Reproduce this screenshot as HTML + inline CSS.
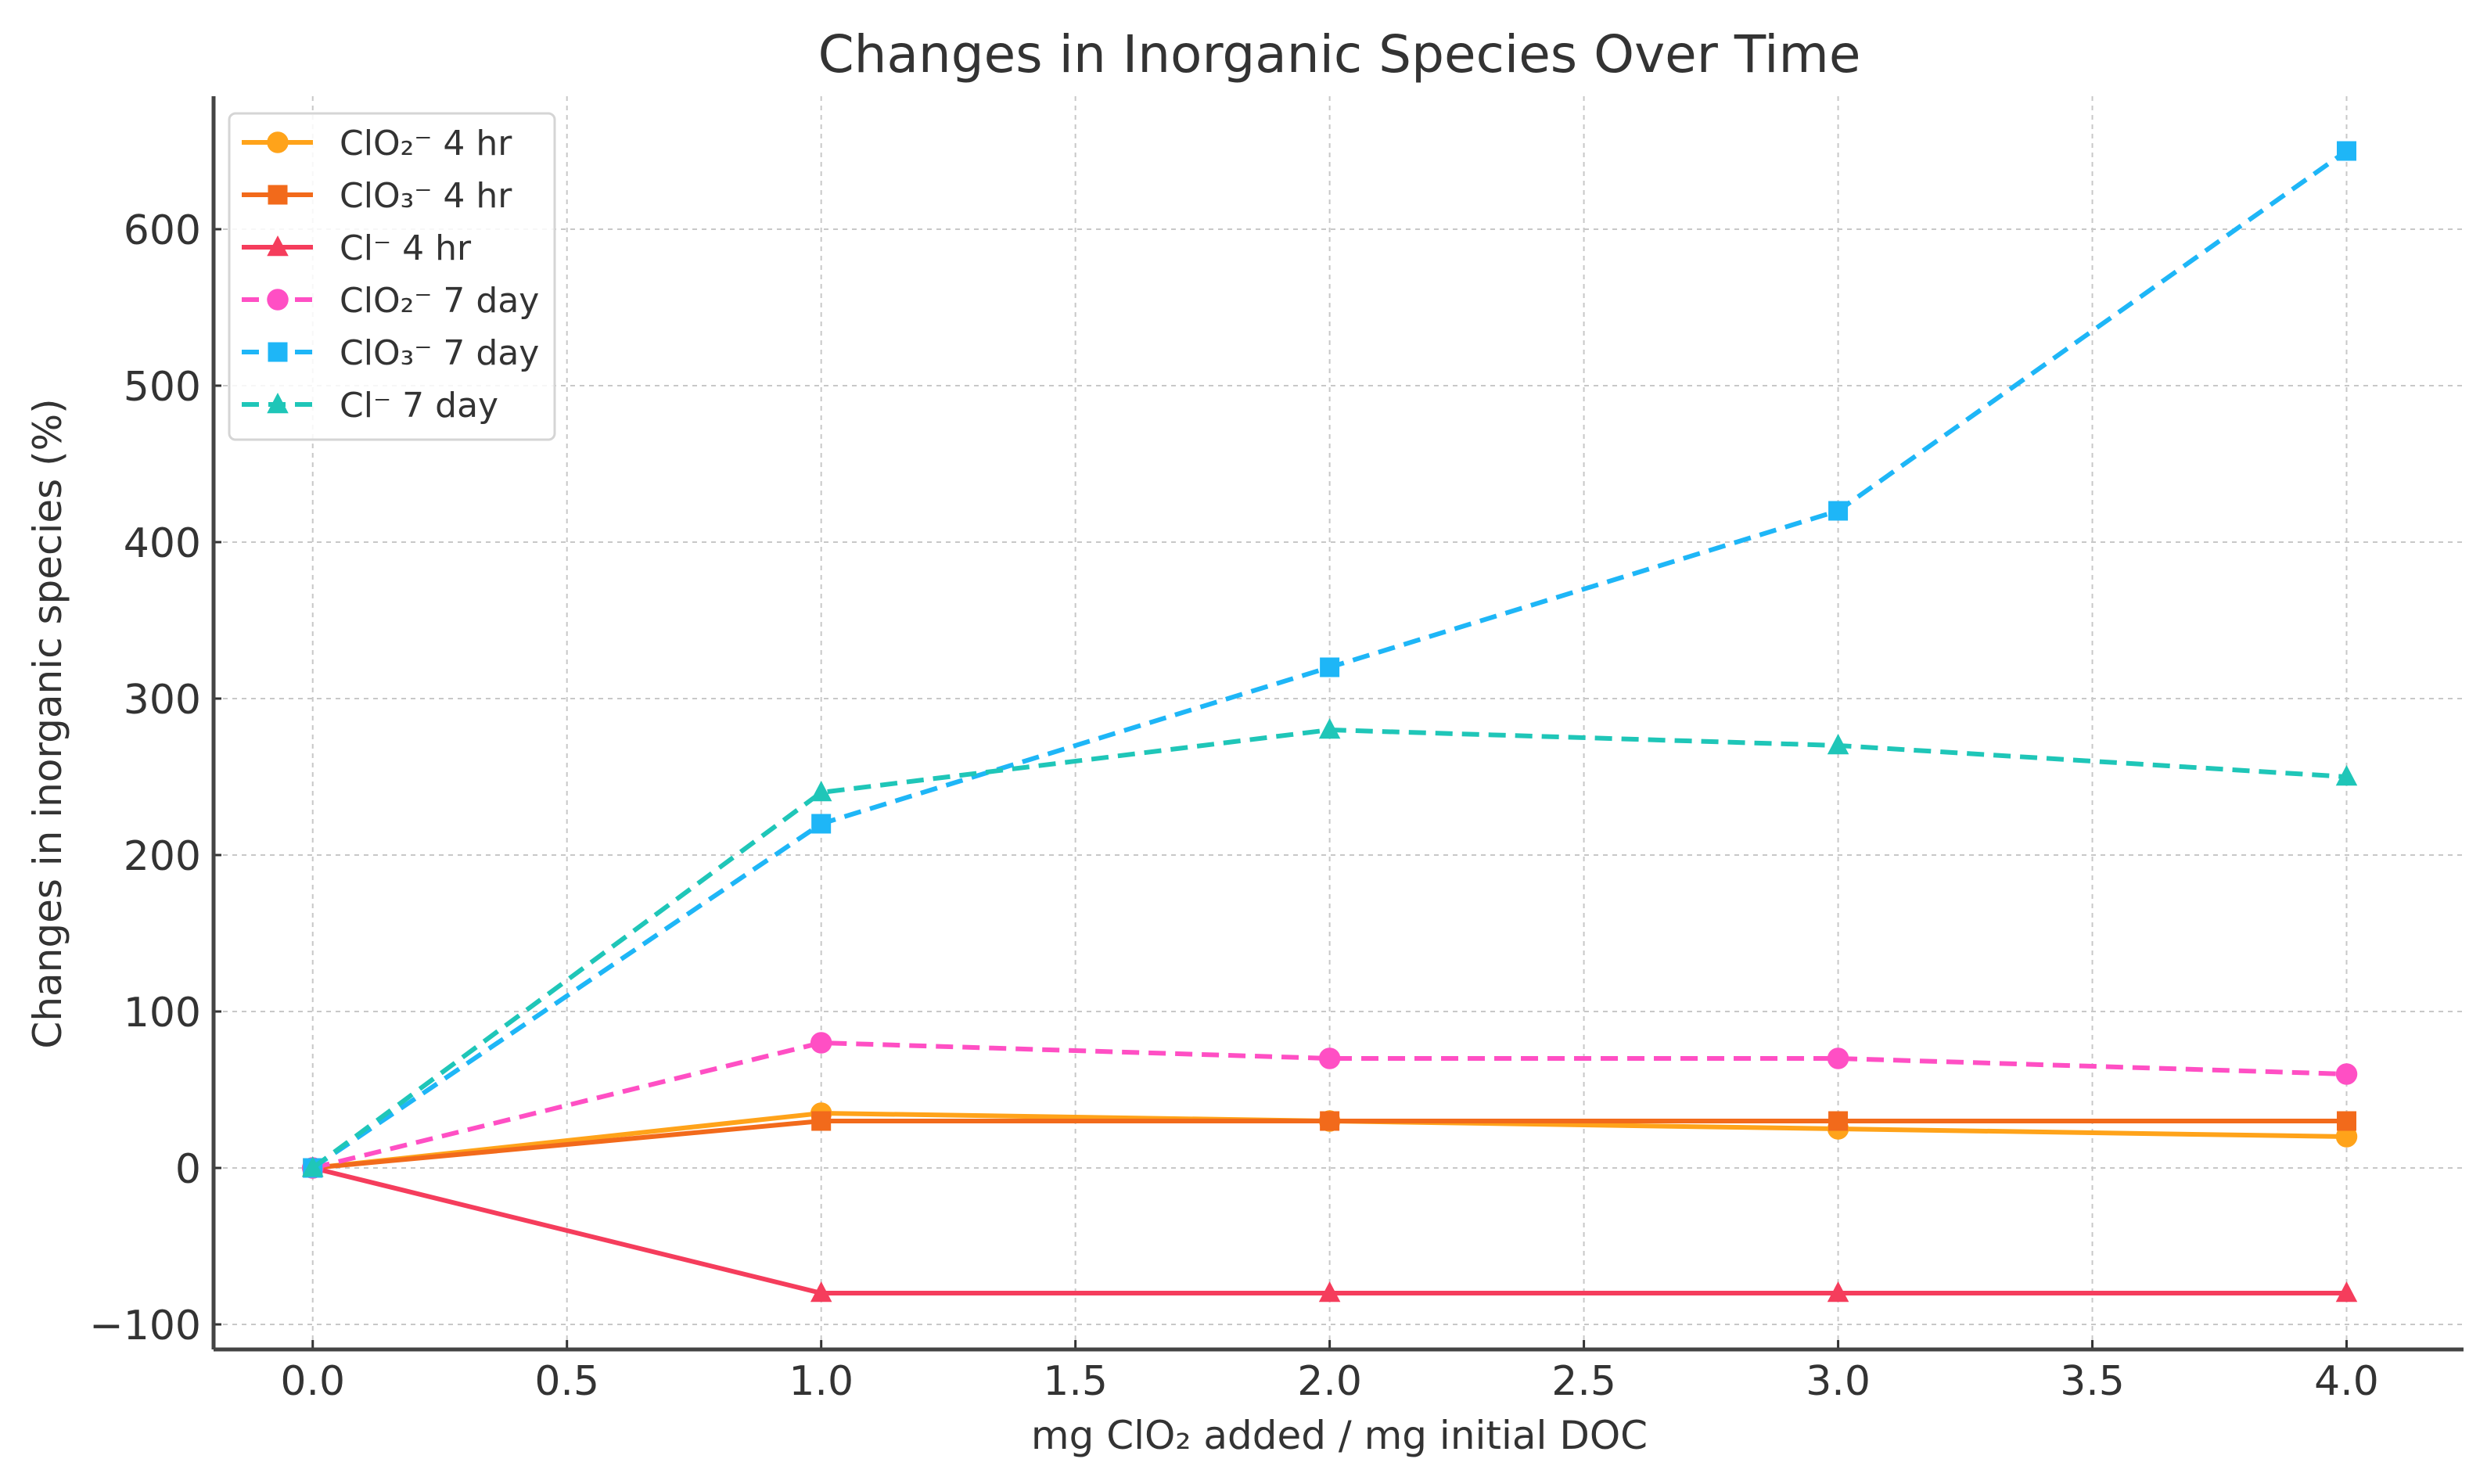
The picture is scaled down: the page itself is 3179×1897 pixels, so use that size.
<!DOCTYPE html>
<html><head><meta charset="utf-8"><style>
html,body{margin:0;padding:0;background:#fff;}
svg{display:block;font-family:"DejaVu Sans","Liberation Sans",sans-serif;}
</style></head><body>
<svg id="chart" width="3179" height="1897" viewBox="0 0 3179 1897" xmlns="http://www.w3.org/2000/svg">
<rect width="3179" height="1897" fill="#fff"/>
<text x="1712" y="92" font-size="66" fill="#333" text-anchor="middle">Changes in Inorganic Species Over Time</text>
<g id="grid"></g>
<g id="axes"></g>
<g id="series"></g>
<text x="1712" y="1852" font-size="50" fill="#333" text-anchor="middle">mg ClO₂ added / mg initial DOC</text>
<text transform="translate(78,925) rotate(-90)" font-size="50" fill="#333" text-anchor="middle">Changes in inorganic species (%)</text>
<g id="legend"></g>
</svg>
<script>
const xValues = [0, 1, 2, 3, 4];
const seriesNames = ["ClO₂⁻ 4 hr","ClO₃⁻ 4 hr","Cl⁻ 4 hr","ClO₂⁻ 7 day","ClO₃⁻ 7 day","Cl⁻ 7 day"];
const clo2_4hr = [0, 35, 30, 25, 20];
const clo3_4hr = [0, 30, 30, 30, 30];
const cl_4hr = [0, -80, -80, -80, -80];
const clo2_7day = [0, 80, 70, 70, 60];
const clo3_7day = [0, 220, 320, 420, 650];
const cl_7day = [0, 240, 280, 270, 250];
const xTicks = [0, 0.5, 1, 1.5, 2, 2.5, 3, 3.5, 4];
const xTickLabels = ["0.0","0.5","1.0","1.5","2.0","2.5","3.0","3.5","4.0"];
const yTicks = [-100, 0, 100, 200, 300, 400, 500, 600];
const yTickLabels = ["−100","0","100","200","300","400","500","600"];

const NS="http://www.w3.org/2000/svg";
const L=273,R=3149,T=123,B=1725;
const xMin=-0.195,xMax=4.23,yMin=-116,yMax=685;
function xs(v){return L+(v-xMin)/(xMax-xMin)*(R-L);}
function ys(v){return B-(v-yMin)/(yMax-yMin)*(B-T);}
function mk(tag,attrs,parent){const e=document.createElementNS(NS,tag);for(const k in attrs)e.setAttribute(k,attrs[k]);parent.appendChild(e);return e;}
const grid=document.getElementById('grid'),axes=document.getElementById('axes'),ser=document.getElementById('series'),leg=document.getElementById('legend');

xTicks.forEach((t,i)=>{
  const g=mk('line',{x1:xs(t),x2:xs(t),y1:T,y2:B,stroke:'#c8c8c8','stroke-width':2,'stroke-dasharray':'6 6'},grid);
  
  
  const tk=mk('line',{x1:xs(t),x2:xs(t),y1:B,y2:B-12,stroke:'#333','stroke-width':3},axes);
  
  
  const tx=mk('text',{x:xs(t),y:B+58,'font-size':52,fill:'#333','text-anchor':'middle'},axes);
  tx.textContent=xTickLabels[i];
  
  
});
yTicks.forEach((t,i)=>{
  const g=mk('line',{x1:L,x2:R,y1:ys(t),y2:ys(t),stroke:'#c8c8c8','stroke-width':2,'stroke-dasharray':'6 6'},grid);
  
  
  const tk=mk('line',{x1:L,x2:L+10,y1:ys(t),y2:ys(t),stroke:'#333','stroke-width':3},axes);
  
  
  const tx=mk('text',{x:L-16,y:ys(t)+19,'font-size':52,fill:'#333','text-anchor':'end'},axes);
  tx.textContent=yTickLabels[i];
  
  
});
const ya=mk('line',{x1:L,x2:L,y1:T,y2:B,stroke:'#444','stroke-width':5},axes);


const xa=mk('line',{x1:L,x2:R,y1:B,y2:B,stroke:'#444','stroke-width':5},axes);



const seriesData=[clo2_4hr,clo3_4hr,cl_4hr,clo2_7day,clo3_7day,cl_7day];
const colors=['#ffa31a','#f26a1b','#f53d5c','#ff4fc4','#1eb6f7','#1fc6b8'];
const dashed=[false,false,false,true,true,true];
const markers=['circle','square','triangle','circle','square','triangle'];
const seriesKeys=['clo2-4hr','clo3-4hr','cl-4hr','clo2-7day','clo3-7day','cl-7day'];
function marker(type,x,y,c,parent,s){
  if(type==='circle') return mk('circle',{cx:x,cy:y,r:s*0.55,fill:c},parent);
  if(type==='square') return mk('rect',{x:x-s*0.5,y:y-s*0.5,width:s,height:s,fill:c},parent);
  return mk('polygon',{points:`${x},${y-s*0.6} ${x-s*0.55},${y+s*0.45} ${x+s*0.55},${y+s*0.45}`,fill:c},parent);
}
seriesData.forEach((d,si)=>{
  const g=mk('g',{},ser);
  
  
  const pts=d.map((v,i)=>xs(xValues[i])+','+ys(v)).join(' ');
  const pl=mk('polyline',{points:pts,fill:'none',stroke:colors[si],'stroke-width':6,'stroke-dasharray':dashed[si]?'22 12':'none','stroke-linejoin':'round'},g);
  
  
  d.forEach((v,i)=>{
    const m=marker(markers[si],xs(xValues[i]),ys(v),colors[si],g,25);
    
    
  });
});

const box=mk('rect',{x:293,y:145,width:416,height:417,rx:8,fill:'#fff','fill-opacity':0.85,stroke:'#d5d5d5','stroke-width':3},leg);


seriesNames.forEach((n,i)=>{
  const y=182+i*67;
  const g=mk('g',{},leg);
  
  
  mk('line',{x1:309,x2:400,y1:y,y2:y,stroke:colors[i],'stroke-width':6,'stroke-dasharray':dashed[i]?'22 12':'none'},g);
  marker(markers[i],355,y,colors[i],g,25);
  const t=mk('text',{x:434,y:y+16,'font-size':44,fill:'#333'},g);
  t.textContent=n;
});
</script>
</body></html>
